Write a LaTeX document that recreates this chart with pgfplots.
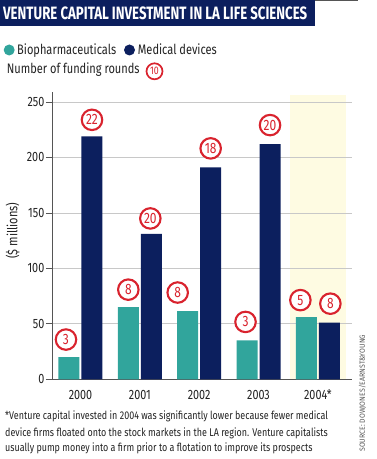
\documentclass[border=0pt]{standalone}
\usepackage{pgfplots}
\pgfplotsset{compat=1.18}
\usepackage{pgfplotstable}
\usepackage{fontspec}
\setmainfont{Fira Sans}[FakeStretch=0.8]
\definecolor{navy}{HTML}{0C1F5E}
\definecolor{teal2}{HTML}{31A59C}
\definecolor{redc}{HTML}{D9232E}
\definecolor{ybg}{HTML}{FEFBE2}
\definecolor{gridc}{HTML}{C8C8C8}
\definecolor{axc}{HTML}{555555}
\definecolor{txt}{HTML}{222222}
\newcommand\tickfont{\fontsize{13.5}{14}\selectfont}
\newcommand\legfont{\fontsize{13.8}{14}\selectfont}
\newcommand\notefont{\fontsize{11.2}{13}\selectfont}
\pgfplotstableread{
x y lab dx dy
0 20 3 -3 16.5
1 65 8 0 16.5
2 61.5 8 -10 17.5
3 35 3 -1.5 17.5
4 56 5 -6 16
}\bio
\pgfplotstableread{
x y lab dx dy
0 219 22 0 15.5
1 131 20 -1 14.5
2 191 18 0 18
3 212 20 0 18
4 51 8 1 18
}\med
\begin{document}
\begin{tikzpicture}[x=1pt,y=1pt]
\path[use as bounding box] (0,0) rectangle (377,459);
\draw[axc, line width=1pt] (0,458.5) -- (358,458.5);
\fill[navy] (0,459) rectangle (315,433);
\node[anchor=base west, inner sep=0pt, text=white] at (3,439) {\resizebox{304pt}{12.7pt}{\bfseries VENTURE CAPITAL INVESTMENT IN LA LIFE SCIENCES}};
% legend
\fill[teal2] (9.2,409) circle (5.5);
\node[anchor=base west, inner sep=0pt, text=txt] at (17,404) {\legfont Biopharmaceuticals};
\fill[navy] (129.5,409) circle (5.5);
\node[anchor=base west, inner sep=0pt, text=txt] at (137.7,404) {\legfont Medical devices};
\node[anchor=base west, inner sep=0pt, text=txt] at (6.7,385) {\legfont Number of funding rounds};
\node[circle, draw=redc, line width=1.7pt, fill=white, text=redc, inner sep=0pt, minimum size=16pt, font=\fontsize{11}{11}\selectfont] at (154.5,387.7) {10};
% highlight
\fill[ybg] (290pt,79.7pt) rectangle (345.7pt,364pt);
\begin{axis}[
  at={(52pt,79.7pt)}, anchor=south west,
  scale only axis, width=299.7pt, height=287.3pt,
  xmin=-0.48, xmax=4.57, ymin=0, ymax=259,
  axis x line*=bottom, axis y line*=left,
  axis line style={axc, line width=0.9pt, -},
  ytick={0,50,...,250}, ymajorgrids, grid style={gridc, line width=0.7pt},
  xtick={0,1,2,3,4}, xticklabels={2000,2001,2002,2003,2004*},
  tick align=outside, major tick length=6pt,
  ytick style={axc, line width=0.8pt}, xtick style={draw=none},
  /pgf/number format/assume math mode=true,
  yticklabel style={font=\tickfont, text=txt, inner sep=1.5pt},
  xticklabel style={font=\tickfont, text=txt, inner sep=0pt, yshift=-4.5pt},
  ybar, bar width=21pt,
  nodes near coords,
  point meta=explicit symbolic,
  visualization depends on={\thisrow{dx} \as \dx},
  visualization depends on={\thisrow{dy} \as \dy},
  every node near coord/.append style={circle, draw=redc, line width=2.1pt, fill=white, text=redc, inner sep=0pt, minimum size=20.5pt, xshift=\dx pt, yshift={\dy pt-10.25pt}, font=\fontsize{15}{15}\selectfont},
]
\addplot[fill=teal2, draw=none, bar shift=-11.5pt] table[x=x, y=y, meta=lab] {\bio};
\addplot[fill=navy, draw=none, bar shift=11.5pt] table[x=x, y=y, meta=lab] {\med};
\end{axis}
\node[rotate=90, inner sep=0pt, text=txt, font=\legfont] at (12.5pt,228.3pt) {(\$ millions)};
\node[anchor=base west, inner sep=0pt, text=txt, font=\notefont] at (5pt,39pt) {*Venture capital invested in 2004 was significantly lower because fewer medical};
\node[anchor=base west, inner sep=0pt, text=txt, font=\notefont] at (5pt,23pt) {device firms floated onto the stock markets in the LA region. Venture capitalists};
\node[anchor=base west, inner sep=0pt, text=txt, font=\notefont] at (5pt,7.5pt) {usually pump money into a firm prior to a flotation to improve its prospects};
\node[rotate=90, anchor=south west, inner sep=0pt, text=axc] at (366pt,7pt) {\resizebox{117pt}{6pt}{SOURCE: DOWJONES/EARNST\&YOUNG}};
\end{tikzpicture}
\end{document}
